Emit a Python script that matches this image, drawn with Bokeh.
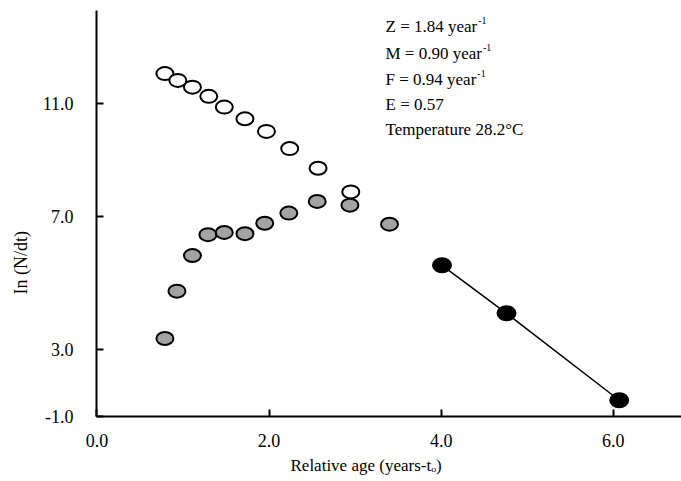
import math
from bokeh.plotting import figure
from bokeh.models import Range1d, FixedTicker, Label, Title
from bokeh.embed import file_html
from bokeh.resources import INLINE

# ---------------- data ----------------
open_x = [0.79, 0.94, 1.11, 1.30, 1.48, 1.72, 1.97, 2.24, 2.57, 2.95]
open_y = [11.97, 11.75, 11.53, 11.23, 10.88, 10.50, 10.09, 9.53, 8.89, 8.12]

gray_x = [0.79, 0.93, 1.11, 1.29, 1.48, 1.72, 1.95, 2.23, 2.56, 2.94, 3.40]
gray_y = [3.35, 4.89, 6.05, 6.73, 6.80, 6.76, 7.10, 7.43, 7.81, 7.69, 7.07]

black_x = [4.01, 4.76, 6.07]
black_y = [5.73, 4.17, 1.34]

x_ticks = [0.0, 2.0, 4.0, 6.0]
x_tick_labels = ["0.0", "2.0", "4.0", "6.0"]
y_ticks = [0.82, 3.0, 7.33, 11.0]
y_tick_labels = ["-1.0", "3.0", "7.0", "11.0"]

stats_main = ["Z = 1.84 year", "M = 0.90 year", "F = 0.94 year", "E = 0.57", "Temperature 28.2\u00b0C"]
stats_sup = ["-1", "-1", "-1", "", ""]

x_label = "Relative age (years-t\u2092)"
y_label = "In (N/dt)"

# ---------------- layout helpers ----------------
FONT = "Liberation Serif"
FRAME_L, FRAME_R, FRAME_T, FRAME_B = 96, 681, 10, 416
X_START, X_PPU = -0.005, 86.05     # data value at frame left, px per unit
Y3_PX, Y_PPU = 349.0, 30.75        # page px of y=3, px per unit


def px2x(px):
    return X_START + (px - FRAME_L) / X_PPU


def py2y(py):
    return 3.0 + (Y3_PX - py) / Y_PPU


# Times-compatible advance widths (per 1000 em) for width estimation
W = {' ': 250, '=': 564, '.': 250, 'Z': 611, 'M': 889, 'F': 556, 'E': 611, 'T': 611,
     'y': 500, 'e': 444, 'a': 444, 'r': 333, 'm': 778, 'p': 500, 't': 278, 'u': 500,
     '\u00b0': 400, 'C': 667}


def text_w(s, size):
    return sum(W.get(c, 500) for c in s) * size / 1000.0


WIDTH, HEIGHT = 681, 481
p = figure(width=WIDTH, height=HEIGHT, output_backend="svg", toolbar_location=None,
           x_range=Range1d(px2x(FRAME_L), px2x(FRAME_R)),
           y_range=Range1d(py2y(FRAME_B) - 0.01, py2y(FRAME_T)),
           min_border_left=FRAME_L, min_border_right=WIDTH - FRAME_R,
           min_border_top=FRAME_T, min_border_bottom=HEIGHT - FRAME_B)
p.outline_line_color = None
p.grid.visible = False
p.background_fill_color = "white"
p.border_fill_color = "white"

for ax in (p.xaxis[0], p.yaxis[0]):
    ax.axis_line_width = 2
    ax.axis_line_color = "black"
    ax.major_tick_line_width = 2
    ax.major_tick_in = 7
    ax.major_tick_out = 0
    ax.minor_tick_line_color = None
    ax.major_label_text_font = FONT
    ax.major_label_text_font_size = "18px"
    ax.major_label_text_color = "black"

p.xaxis.ticker = FixedTicker(ticks=x_ticks)
p.xaxis.major_label_overrides = dict(zip(x_ticks, x_tick_labels))
p.xaxis.major_label_standoff = 17
p.yaxis.ticker = FixedTicker(ticks=y_ticks)
p.yaxis.major_label_overrides = dict(zip(y_ticks, y_tick_labels))
p.yaxis.major_label_standoff = 23

# regression line through the black points
p.line(black_x, black_y, line_color="black", line_width=1.5)

p.ellipse(open_x, open_y, width=17, height=13, width_units="screen", height_units="screen",
          fill_color="white", line_color="black", line_width=2)
p.ellipse(gray_x, gray_y, width=17, height=13, width_units="screen", height_units="screen",
          fill_color="#a3a3a3", line_color="black", line_width=2)
p.ellipse(black_x, black_y, width=18, height=14, width_units="screen", height_units="screen",
          fill_color="black", line_color="black", line_width=2)

# statistics text block
STAT_SIZE = 17
base_px = [26.5, 53.0, 79.0, 104.0, 129.0]
for txt, sup, by in zip(stats_main, stats_sup, base_px):
    p.add_layout(Label(x=px2x(385), y=py2y(by), text=txt, text_font=FONT,
                       text_font_size=f"{STAT_SIZE}px", text_baseline="alphabetic",
                       text_align="left", text_color="black"))
    if sup:
        sx = 385 + text_w(txt, STAT_SIZE) + 1
        p.add_layout(Label(x=px2x(sx), y=py2y(by - 6), text=sup, text_font=FONT,
                           text_font_size="10px", text_baseline="alphabetic",
                           text_align="left", text_color="black"))

# axis titles (as side titles, so they can be shifted off-centre like the reference)
p.add_layout(Title(text=x_label, align="left", offset=194, text_font=FONT,
                   text_font_size="17px", text_font_style="normal", text_color="black",
                   standoff=9), "below")
p.add_layout(Title(text=y_label, align="left", offset=122, text_font=FONT,
                   text_font_size="18px", text_font_style="normal", text_color="black",
                   vertical_align="top", standoff=14), "left")

open("out.html", "w").write(file_html(p, INLINE))
